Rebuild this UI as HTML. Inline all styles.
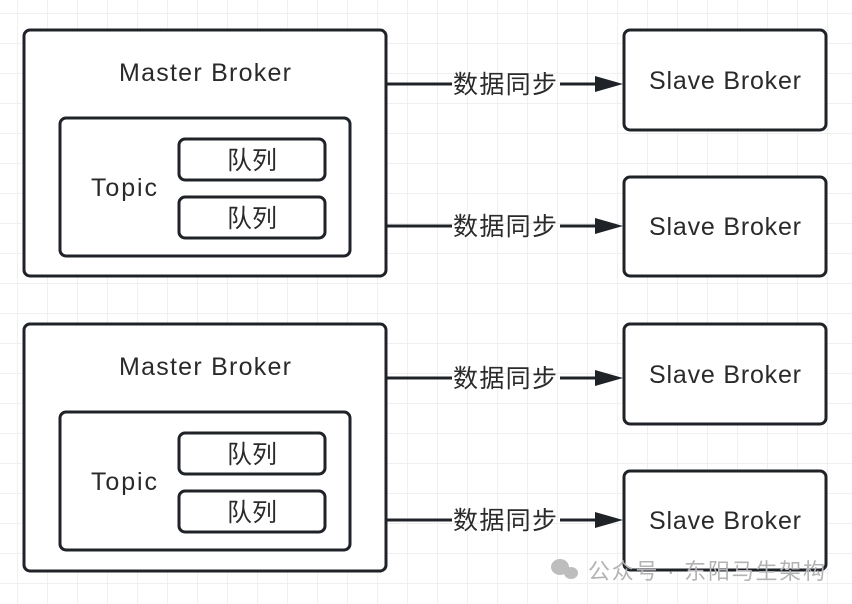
<!DOCTYPE html>
<html><head><meta charset="utf-8"><style>
html,body{margin:0;padding:0;background:#fff;}
svg{display:block;}
text{font-family:"Liberation Sans","Noto Sans CJK SC",sans-serif;fill:#2a2a2a;}
</style></head><body>
<svg width="852" height="604" viewBox="0 0 852 604" xmlns="http://www.w3.org/2000/svg">
<defs>
<pattern id="g" x="17" y="13" width="30" height="30" patternUnits="userSpaceOnUse">
<path d="M0 0H30M0 0V30" stroke="#ececec" stroke-width="1.5" fill="none"/>
</pattern>
</defs>
<rect width="852" height="604" fill="#fff"/>
<rect width="852" height="604" fill="url(#g)"/>
<g stroke="#1f2328" stroke-width="3" fill="#fff">
<rect x="24" y="30" width="362" height="246" rx="6"/>
<rect x="60" y="118" width="290" height="138" rx="6"/>
<rect x="179" y="139" width="146" height="41" rx="6"/>
<rect x="179" y="197" width="146" height="41" rx="6"/>
<rect x="24" y="324" width="362" height="247" rx="6"/>
<rect x="60" y="412" width="290" height="138" rx="6"/>
<rect x="179" y="433" width="146" height="41" rx="6"/>
<rect x="179" y="491" width="146" height="41" rx="6"/>
<rect x="624" y="30" width="202" height="100" rx="6"/>
<rect x="624" y="177" width="202" height="99" rx="6"/>
<rect x="624" y="324" width="202" height="100" rx="6"/>
<rect x="624" y="471" width="202" height="99" rx="6"/>
</g>
<g stroke="#1f2328" stroke-width="3">
<line x1="387" y1="84" x2="452" y2="84"/><line x1="560" y1="84" x2="600" y2="84"/>
<line x1="387" y1="226" x2="452" y2="226"/><line x1="560" y1="226" x2="600" y2="226"/>
<line x1="387" y1="378" x2="452" y2="378"/><line x1="560" y1="378" x2="600" y2="378"/>
<line x1="387" y1="520" x2="452" y2="520"/><line x1="560" y1="520" x2="600" y2="520"/>
</g>
<g fill="#1f2328">
<polygon points="595,76 623,84 595,92"/>
<polygon points="595,218 623,226 595,234"/>
<polygon points="595,370 623,378 595,386"/>
<polygon points="595,512 623,520 595,528"/>
</g>
<g font-size="25" text-anchor="middle">
<text x="205" y="81" textLength="172">Master Broker</text>
<text x="124" y="196" textLength="66">Topic</text>
<text x="252" y="169">队列</text>
<text x="252" y="227">队列</text>
<text x="205" y="375" textLength="172">Master Broker</text>
<text x="124" y="490" textLength="66">Topic</text>
<text x="252" y="463">队列</text>
<text x="252" y="521">队列</text>
<text x="505" y="93" textLength="104">数据同步</text>
<text x="505" y="235" textLength="104">数据同步</text>
<text x="505" y="387" textLength="104">数据同步</text>
<text x="505" y="529" textLength="104">数据同步</text>
<text x="725" y="89" textLength="152">Slave Broker</text>
<text x="725" y="235" textLength="152">Slave Broker</text>
<text x="725" y="383" textLength="152">Slave Broker</text>
<text x="725" y="529" textLength="152">Slave Broker</text>
</g>
<g fill="#bdbdbd">
<ellipse cx="560" cy="567" rx="9" ry="8"/>
<ellipse cx="571" cy="573" rx="7" ry="6"/>
</g>
<text x="588" y="579" font-size="22" textLength="237" style="fill:#b3b3b3">公众号 · 东阳马生架构</text>
</svg>
</body></html>
